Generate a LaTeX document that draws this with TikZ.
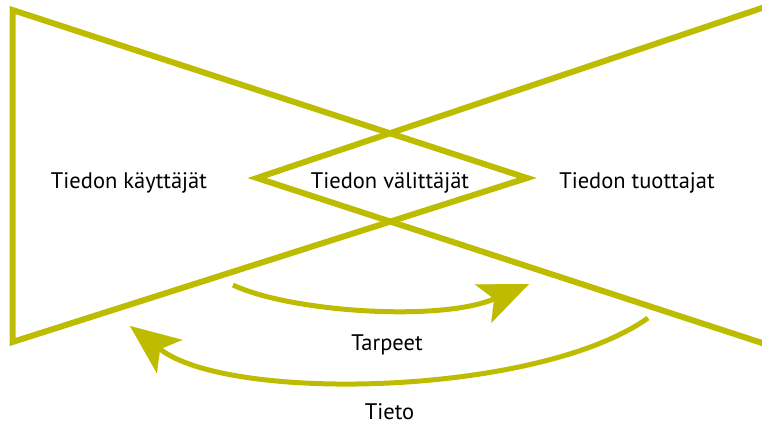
\documentclass[tikz,border=0pt]{standalone}
\usepackage{fontspec}
\setmainfont{PT Sans}
\usetikzlibrary{arrows.meta}
\definecolor{olivey}{RGB}{190,188,0}
\tikzset{
  frame/.style={draw=olivey, line width=6pt, line join=miter},
  flow/.style={draw=olivey, line width=5pt,
    -{Stealth[length=50pt,width=42pt,inset=12pt,line width=0.1pt]}},
  lbl/.style={anchor=base, inner sep=0pt, font=\fontsize{22.5}{27}\selectfont, text=black}
}
\begin{document}
\begin{tikzpicture}[x=1pt,y=-1pt]
\useasboundingbox (0,0) rectangle (762,425);
\begin{scope}
\clip (0,0) rectangle (762,425);
% left triangle
\coordinate (lt) at (12.5,10);
\coordinate (lb) at (12.5,342);
\coordinate (la) at (527,178);
\draw[frame] (lt) -- (la) -- (lb) -- cycle;
% right triangle (open on the right)
\coordinate (rt) at (775,3.6);
\coordinate (rb) at (775,347.2);
\coordinate (ra) at (257,178);
\draw[frame] (rt) -- (ra) -- (rb);
\end{scope}
% labels
\node[lbl] (users) at (129,188) {Tiedon käyttäjät};
\node[lbl] (brokers) at (390,188) {Tiedon välittäjät};
\node[lbl] (producers) at (637,188) {Tiedon tuottajat};
\node[lbl] (needs) at (387,350) {Tarpeet};
\node[lbl] (info) at (389.5,419.5) {Tieto};
% arrows
\coordinate (t0) at (233,285);
\coordinate (t1) at (529,284);
\draw[flow] (t0) .. controls (290,312) and (440,322) .. (t1);
\coordinate (i0) at (648,318);
\coordinate (i1) at (130,326);
\draw[flow] (i0) .. controls (538,396) and (230,403) .. (i1);
\end{tikzpicture}
\end{document}
